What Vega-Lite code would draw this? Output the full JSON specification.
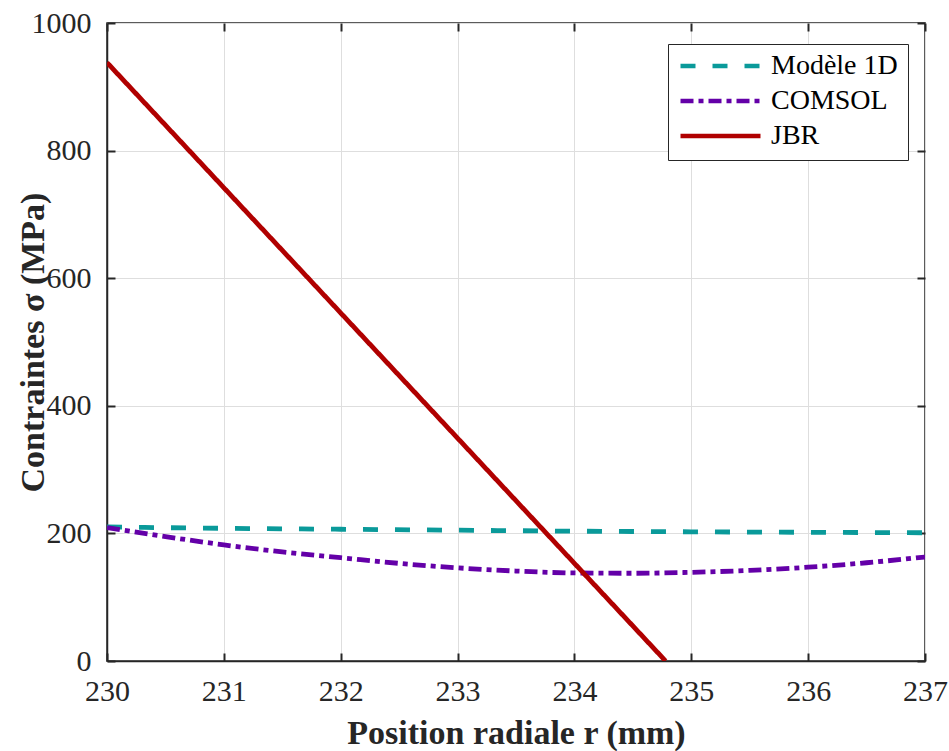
{
  "$schema": "https://vega.github.io/schema/vega-lite/v6.json",
  "autosize": "none",
  "width": 818,
  "height": 638,
  "padding": {"left": 107, "top": 23, "right": 24, "bottom": 90},
  "background": "white",
  "config": {
    "font": "Liberation Serif",
    "view": {"stroke": "#262626", "strokeWidth": 1.5},
    "axis": {
      "labelFont": "Liberation Serif",
      "titleFont": "Liberation Serif",
      "labelFontSize": 30,
      "titleFontSize": 34,
      "labelColor": "#262626",
      "titleColor": "#262626",
      "titleFontWeight": "bold",
      "labelFlush": false,
      "labelOverlap": false,
      "domainColor": "#262626",
      "domainWidth": 1.5,
      "tickColor": "#262626",
      "tickWidth": 2,
      "gridColor": "#dedede",
      "gridWidth": 1
    }
  },
  "data": {
    "values": [
      {"series": "Modèle 1D", "r": 230, "sigma": 210},
      {"series": "Modèle 1D", "r": 231, "sigma": 208},
      {"series": "Modèle 1D", "r": 232, "sigma": 206.5},
      {"series": "Modèle 1D", "r": 233, "sigma": 205},
      {"series": "Modèle 1D", "r": 234, "sigma": 203.5},
      {"series": "Modèle 1D", "r": 235, "sigma": 202.5},
      {"series": "Modèle 1D", "r": 236, "sigma": 201.7},
      {"series": "Modèle 1D", "r": 237, "sigma": 201},
      {"series": "COMSOL", "r": 230, "sigma": 209},
      {"series": "COMSOL", "r": 230.5, "sigma": 195},
      {"series": "COMSOL", "r": 231, "sigma": 182},
      {"series": "COMSOL", "r": 231.5, "sigma": 171},
      {"series": "COMSOL", "r": 232, "sigma": 162},
      {"series": "COMSOL", "r": 232.5, "sigma": 153},
      {"series": "COMSOL", "r": 233, "sigma": 146},
      {"series": "COMSOL", "r": 233.5, "sigma": 141},
      {"series": "COMSOL", "r": 234, "sigma": 138},
      {"series": "COMSOL", "r": 234.5, "sigma": 137.5},
      {"series": "COMSOL", "r": 235, "sigma": 139},
      {"series": "COMSOL", "r": 235.5, "sigma": 142},
      {"series": "COMSOL", "r": 236, "sigma": 147},
      {"series": "COMSOL", "r": 236.5, "sigma": 154},
      {"series": "COMSOL", "r": 237, "sigma": 163},
      {"series": "JBR", "r": 230, "sigma": 938},
      {"series": "JBR", "r": 234.78, "sigma": 0}
    ]
  },
  "resolve": {"axis": {"x": "independent", "y": "independent"}},
  "layer": [
    {
      "mark": {"type": "line", "strokeWidth": 4.8, "interpolate": "monotone", "clip": true},
      "encoding": {
        "x": {
          "field": "r", "type": "quantitative",
          "scale": {"domain": [230, 237], "nice": false, "zero": false},
          "axis": {"title": "Position radiale r (mm)", "values": [230,231,232,233,234,235,236,237], "format": "d", "grid": true, "tickSize": -8, "labelPadding": 23, "titleX": 409, "titleY": 82, "titleBaseline": "alphabetic", "titleAnchor": "middle", "titleAlign": "center"}
        },
        "y": {
          "field": "sigma", "type": "quantitative",
          "scale": {"domain": [0, 1000], "nice": false},
          "axis": {"title": "Contraintes σ (MPa)", "values": [0,200,400,600,800,1000], "format": "d", "grid": true, "tickSize": -8, "labelPadding": 24, "titleX": -64, "titleY": 319, "titleBaseline": "alphabetic", "titleAlign": "center", "titleAngle": 270}
        },
        "color": {
          "field": "series", "type": "nominal",
          "scale": {"domain": ["Modèle 1D", "COMSOL", "JBR"], "range": ["#0a9a9a", "#6400a8", "#b00000"]},
          "legend": {
            "title": null, "orient": "none", "legendX": 561, "legendY": 21,
            "symbolType": "stroke", "symbolSize": 6400, "symbolStrokeWidth": 4.5,
            "labelFont": "Liberation Serif", "labelFontSize": 28, "labelColor": "#000000",
            "strokeColor": "#262626", "fillColor": "white", "padding": 10,
            "clipHeight": 24, "rowPadding": 7, "labelOffset": 8, "labelLimit": 300
          }
        },
        "strokeDash": {
          "field": "series", "type": "nominal",
          "scale": {"domain": ["Modèle 1D", "COMSOL", "JBR"], "range": [[15, 17], [13, 5, 5, 5], [1, 0]]},
          "legend": {
            "title": null, "orient": "none", "legendX": 561, "legendY": 21,
            "symbolType": "stroke", "symbolSize": 6400, "symbolStrokeWidth": 4.5,
            "labelFont": "Liberation Serif", "labelFontSize": 28, "labelColor": "#000000",
            "strokeColor": "#262626", "fillColor": "white", "padding": 10,
            "clipHeight": 24, "rowPadding": 7, "labelOffset": 8, "labelLimit": 300
          }
        }
      }
    },
    {
      "mark": {"type": "line", "opacity": 0},
      "encoding": {
        "x": {"field": "r", "type": "quantitative", "axis": {"orient": "top", "title": null, "labels": false, "grid": false, "domain": false, "values": [230,231,232,233,234,235,236,237], "tickSize": -8}},
        "y": {"field": "sigma", "type": "quantitative", "axis": {"orient": "right", "title": null, "labels": false, "grid": false, "domain": false, "values": [0,200,400,600,800,1000], "tickSize": -8}},
        "detail": {"field": "series"}
      }
    }
  ]
}
